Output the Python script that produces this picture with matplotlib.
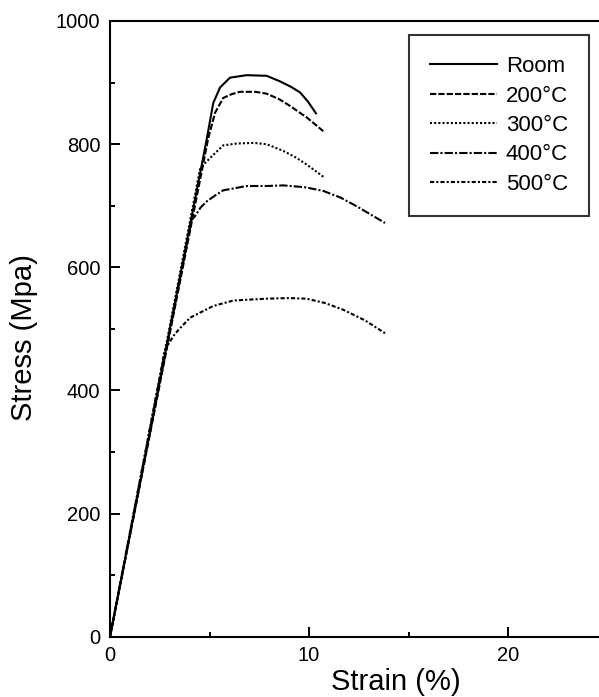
import matplotlib
matplotlib.use("Agg")
import matplotlib.pyplot as plt
from matplotlib.ticker import MultipleLocator

plt.rcParams['font.family'] = ['Liberation Sans', 'DejaVu Sans']

# ---- data ----
room_strain = [0, 4.86, 5.19, 5.53, 6.03, 6.87, 7.87, 8.54, 9.10, 9.55, 9.95, 10.35]
room_stress = [0, 808, 867, 892, 908, 912, 911, 902, 893, 884, 869, 850]

t200_strain = [0, 4.94, 5.28, 5.69, 6.10, 6.53, 7.30, 7.87, 8.50, 9.05, 9.90, 10.72]
t200_stress = [0, 810, 851, 875, 881, 885, 885, 882, 873, 862, 843, 821]

t300_strain = [0, 4.52, 4.80, 5.11, 5.69, 6.37, 7.20, 7.87, 8.71, 9.30, 9.88, 10.72]
t300_stress = [0, 759, 770, 780, 798, 801, 802, 800, 789, 779, 767, 747]

t400_strain = [0, 4.10, 4.27, 4.55, 4.86, 5.30, 5.69, 6.87, 7.87, 8.71, 9.80, 10.72, 11.60, 12.40, 13.82]
t400_stress = [0, 677, 683, 697, 707, 717, 725, 732, 732, 733, 730, 724, 713, 699, 672]

t500_strain = [0, 2.75, 2.95, 3.20, 3.43, 4.02, 5.18, 6.20, 7.87, 9.00, 9.88, 10.80, 11.72, 12.80, 13.82]
t500_stress = [0, 465, 476, 489, 498, 518, 537, 546, 549, 550, 549, 542, 531, 514, 493]

labels = ["Room", "200°C", "300°C", "400°C", "500°C"]
x_ticks = [0, 10, 20]
y_ticks = [0, 200, 400, 600, 800, 1000]

# ---- figure ----
W, H = 599, 697
fig = plt.figure(figsize=(W / 100, H / 100), dpi=100)
ax_left, ax_bottom = 110 / W, (H - 636.7) / H
ax_w, ax_h = 497.5 / W, 615.7 / H
ax = fig.add_axes([ax_left, ax_bottom, ax_w, ax_h])

series = [
    (room_strain, room_stress, '-'),
    (t200_strain, t200_stress, (0, (3, 1))),
    (t300_strain, t300_stress, (0, (1, 1))),
    (t400_strain, t400_stress, (0, (4, 1, 1, 1))),
    (t500_strain, t500_stress, (0, (2, 1, 1, 1))),
]
for (xs, ys, ls), lab in zip(series, labels):
    ax.plot(xs, ys, color='black', lw=1.5, ls=ls, label=lab)

ax.set_xlim(0, 25)
ax.set_ylim(0, 1000)
ax.set_xticks(x_ticks)
ax.set_yticks(y_ticks)
ax.xaxis.set_minor_locator(MultipleLocator(5))
ax.yaxis.set_minor_locator(MultipleLocator(100))
ax.tick_params(which='both', direction='in', top=False, right=False, width=1.4,
               labelsize=14.5, pad=7)
ax.tick_params(which='major', length=7)
ax.tick_params(which='minor', length=3.5)
for s in ax.spines.values():
    s.set_linewidth(1.5)

ax.set_xlabel("Strain (%)", fontsize=21)
ax.set_ylabel("Stress (Mpa)", fontsize=21)
ax.xaxis.set_label_coords((396 - 110) / 497.5, -0.051)
ax.yaxis.set_label_coords(-0.145, (636.7 - 338) / 615.7)

leg = ax.legend(loc='upper left', bbox_to_anchor=((409 - 110) / 497.5, (636.7 - 35) / 615.7),
                borderaxespad=0, frameon=True, fancybox=False, fontsize=16,
                handlelength=3.0, handletextpad=0.4, labelspacing=0.38, borderpad=0.95)
leg.get_frame().set_edgecolor('black')
leg.get_frame().set_linewidth(1.5)

fig.savefig("out.png", dpi=100)
